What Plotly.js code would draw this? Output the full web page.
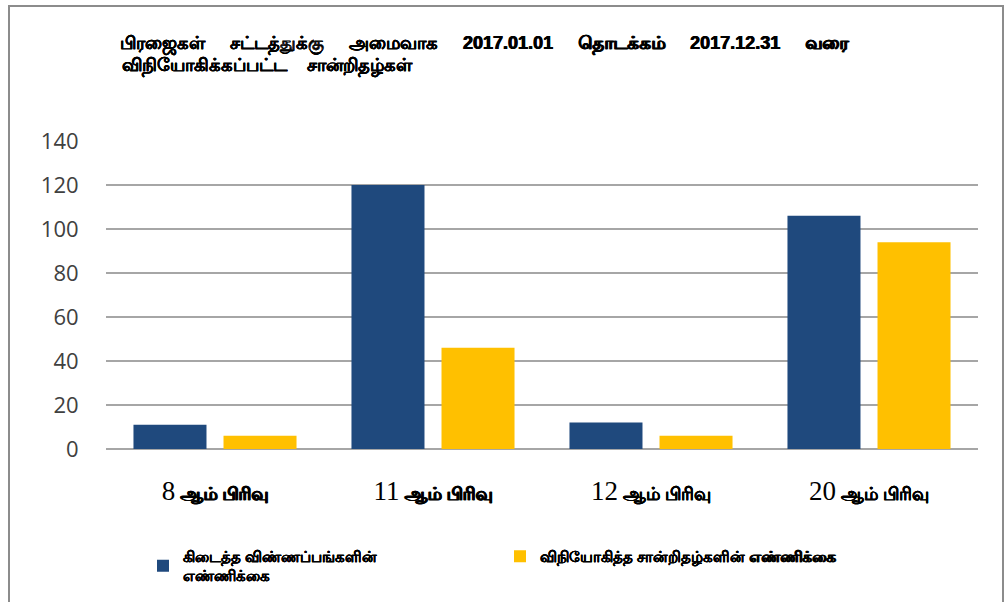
<!DOCTYPE html>
<html>
<head>
<meta charset="utf-8">
<script src="https://cdn.plot.ly/plotly-3.0.1.min.js"></script>
<style>
  html, body { margin: 0; padding: 0; background: #ffffff; }
  #wrap { position: relative; width: 1008px; height: 602px; overflow: hidden; }
  #frame { position: absolute; left: 8px; top: 5px; width: 996px; height: 620px; border: 2px solid #8c8c8c; box-sizing: border-box; pointer-events: none; z-index: 5; }
  #chart { position: absolute; left: 0; top: 0; width: 1008px; height: 602px; }
</style>
</head>
<body>
<div id="wrap">
  <div id="chart"></div>
  <div id="frame"></div>
</div>
<script>
// ---- data ----
const categories = ['8 ஆம் பிரிவு', '11 ஆம் பிரிவு', '12 ஆம் பிரிவு', '20 ஆம் பிரிவு'];
const receivedApplications = [11, 120, 12, 106];
const issuedCertificates = [6, 46, 6, 94];
const seriesNames = ['கிடைத்த விண்ணப்பங்களின்<br>எண்ணிக்கை', 'விநியோகித்த சான்றிதழ்களின் எண்ணிக்கை'];
const yTicks = [0, 20, 40, 60, 80, 100, 120, 140];
const titleLine1 = 'பிரஜைகள் சட்டத்துக்கு அமைவாக 2017.01.01 தொடக்கம் 2017.12.31 வரை';
const titleLine2 = 'விநியோகிக்கப்பட்ட சான்றிதழ்கள்';

const boldShadow = '0.45px 0 0 #000, -0.45px 0 0 #000';
const wideSpaces = (s, n) => s.split(' ').join('\u00a0'.repeat(n) + ' ');

// styled tick labels: serif number + bold Tamil words
const tickText = categories.map(c => {
  const i = c.indexOf(' ');
  const num = c.slice(0, i);
  const rest = c.slice(i + 1);
  return '<span style="font-family:\'Liberation Serif\',serif;font-size:27px;text-shadow:none">' + num + '</span> <b>' + rest + '</b>';
});

const traces = [
  {
    type: 'bar', x: categories, y: receivedApplications, name: '<b>' + seriesNames[0] + '</b>',
    marker: { color: '#1f497d' }
  },
  {
    type: 'bar', x: categories, y: issuedCertificates, name: '<b>' + seriesNames[1] + '</b>',
    marker: { color: '#ffc000' }
  }
];

const titleFont = { size: 18, color: '#000000', family: 'Liberation Sans, Arial, sans-serif', shadow: boldShadow };

const layout = {
  width: 1008, height: 602,
  paper_bgcolor: '#ffffff', plot_bgcolor: '#ffffff',
  margin: { l: 106, r: 30, t: 141, b: 152, pad: 0 },
  font: { family: 'Liberation Sans, Arial, sans-serif', color: '#000000' },
  title: {
    text: '<b>' + wideSpaces(titleLine1, 4) + '</b>',
    x: 120 / 1008, xanchor: 'left', xref: 'container',
    y: 1 - 43 / 602, yanchor: 'middle', yref: 'container',
    font: titleFont
  },
  annotations: [{
    text: '<b>' + wideSpaces(titleLine2, 3) + '</b>',
    xref: 'paper', yref: 'paper',
    x: (120 - 106) / 872, xanchor: 'left',
    y: (450 - 66) / 309, yanchor: 'middle',
    showarrow: false,
    font: titleFont
  }],
  barmode: 'group',
  bargap: 0.174,
  bargroupgap: 0.189,
  xaxis: {
    type: 'category',
    tickvals: categories,
    ticktext: tickText,
    ticks: 'outside', ticklen: 28, tickcolor: 'rgba(0,0,0,0)',
    tickfont: { size: 18, color: '#000000', family: 'Liberation Sans, Arial, sans-serif', shadow: boldShadow },
    showline: false, showgrid: false, zeroline: false,
    fixedrange: true
  },
  yaxis: {
    range: [0, 140],
    tickvals: yTicks,
    ticks: 'outside', ticklen: 22, tickcolor: 'rgba(0,0,0,0)',
    tickfont: { size: 22, color: '#404040', family: 'Open Sans, Liberation Sans, sans-serif' },
    showgrid: true, gridcolor: '#a6a6a6', gridwidth: 1.5,
    zeroline: true, zerolinecolor: '#a6a6a6', zerolinewidth: 1.5,
    showline: false,
    fixedrange: true
  },
  legend: {
    orientation: 'h',
    x: (143 - 106) / 872, xanchor: 'left',
    y: -0.375, yanchor: 'middle',
    entrywidth: 312, entrywidthmode: 'pixels',
    font: { size: 14.5, color: '#000000', family: 'Liberation Sans, Arial, sans-serif', shadow: boldShadow },
    itemclick: false, itemdoubleclick: false,
    traceorder: 'normal',
    valign: 'middle'
  },
  showlegend: true
};

Plotly.newPlot('chart', traces, layout, { displayModeBar: false, staticPlot: true });
</script>
</body>
</html>
